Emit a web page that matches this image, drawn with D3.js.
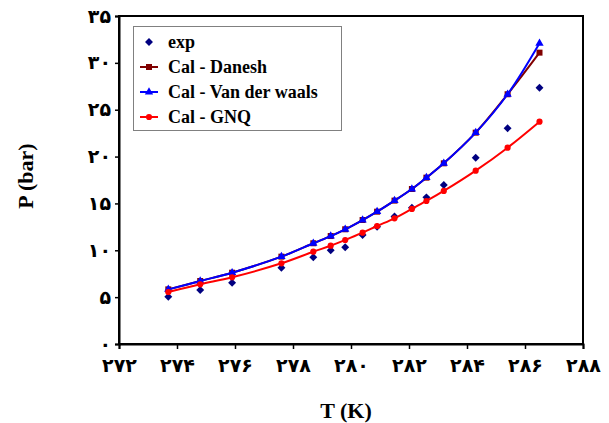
<!DOCTYPE html>
<html>
<head>
<meta charset="utf-8">
<script src="https://cdn.jsdelivr.net/npm/d3@7"></script>
<style>
  body { margin: 0; background: #fff; }
  svg { display: block; }
  text { font-family: "Times New Roman", "Liberation Serif", "DejaVu Sans", serif; font-weight: bold; }
</style>
</head>
<body>
<div id="chart"></div>
<script>
// temperatures (K)
var temps = [273.7, 274.8, 275.9, 277.6, 278.7, 279.3, 279.8, 280.4, 280.9, 281.5, 282.1, 282.6, 283.2, 284.3, 285.4, 286.5];
// pressures (bar)
var p_exp    = [5.05, 5.76, 6.54, 8.14, 9.25, 10.0, 10.32, 11.63, 12.5, 13.6, 14.55, 15.65, 16.97, 19.88, 23.02, 27.35];
var p_danesh = [5.83, 6.72, 7.61, 9.32, 10.75, 11.52, 12.24, 13.23, 14.12, 15.3, 16.54, 17.75, 19.28, 22.55, 26.65, 31.09];
var p_vdw    = [5.83, 6.72, 7.61, 9.32, 10.75, 11.52, 12.24, 13.23, 14.12, 15.3, 16.54, 17.75, 19.28, 22.55, 26.65, 32.09];
var p_gnq    = [5.55, 6.37, 7.12, 8.61, 9.85, 10.49, 11.1, 11.88, 12.59, 13.41, 14.41, 15.26, 16.33, 18.5, 20.95, 23.72];
var x_ticks = [272, 274, 276, 278, 280, 282, 284, 286, 288];
var y_ticks = [0, 5, 10, 15, 20, 25, 30, 35];
var series_names = ['exp', 'Cal - Danesh', 'Cal - Van der waals', 'Cal - GNQ'];

var width = 609, height = 423;
var plot = {left: 119, top: 16, right: 583, bottom: 344};

// persian digits for tick labels
var fa = function (n) {
    return String(n).replace(/\d/g, function (c) { return String.fromCharCode(0x06F0 + (+c)); });
};

var svg = d3.select('#chart').append('svg').attr('width', width).attr('height', height);

var x = d3.scaleLinear().domain([272, 288]).range([plot.left, plot.right]);
var y = d3.scaleLinear().domain([0, 35]).range([plot.bottom, plot.top]);

// frame
svg.append('rect')
    .attr('x', plot.left).attr('y', plot.top)
    .attr('width', plot.right - plot.left).attr('height', plot.bottom - plot.top)
    .attr('fill', 'none').attr('stroke', '#000').attr('stroke-width', 2);

var x_axis = svg.append('g')
    .attr('transform', 'translate(0,' + plot.bottom + ')')
    .call(d3.axisBottom(x).tickValues(x_ticks).tickSize(5).tickPadding(10).tickFormat(fa));
var y_axis = svg.append('g')
    .attr('transform', 'translate(' + plot.left + ',0)')
    .call(d3.axisLeft(y).tickValues(y_ticks).tickSize(4).tickPadding(4).tickFormat(fa));
[x_axis, y_axis].forEach(function (a) {
    a.select('.domain').attr('stroke-width', 2);
    a.selectAll('.tick line').attr('stroke-width', 1.5);
    a.selectAll('.tick text')
        .attr('font-size', 19)
        .attr('font-family', '"Times New Roman", "Liberation Serif", "DejaVu Sans", serif')
        .attr('font-weight', 'bold')
        .attr('fill', '#000');
});

// axis titles
svg.append('text')
    .attr('x', 346).attr('y', 418)
    .attr('text-anchor', 'middle').attr('font-size', 22)
    .text('T (K)');
svg.append('text')
    .attr('transform', 'translate(33,176) rotate(-90)')
    .attr('text-anchor', 'middle').attr('font-size', 22)
    .text('P (bar)');

var line_gen = function (vals) {
    return d3.line()
        .x(function (d, i) { return x(temps[i]); })
        .y(function (d) { return y(d); })
        .curve(d3.curveCatmullRom.alpha(0.5))(vals);
};

var sym = {
    diamond: d3.symbol().type(d3.symbolDiamond2).size(40),
    square: d3.symbol().type(d3.symbolSquare).size(36),
    triangle: d3.symbol().type(d3.symbolTriangle).size(30),
    circle: d3.symbol().type(d3.symbolCircle).size(30)
};

var series = [
    {vals: p_exp, color: '#000080', marker: 'diamond', line: false},
    {vals: p_danesh, color: '#800000', marker: 'square', line: true},
    {vals: p_vdw, color: '#0000FF', marker: 'triangle', line: true},
    {vals: p_gnq, color: '#FF0000', marker: 'circle', line: true}
];

series.forEach(function (s) {
    var g = svg.append('g');
    if (s.line) {
        g.append('path')
            .attr('d', line_gen(s.vals))
            .attr('fill', 'none')
            .attr('stroke', s.color)
            .attr('stroke-width', 2);
    }
    g.selectAll('path.m')
        .data(s.vals)
        .enter()
        .append('path')
        .attr('class', 'm')
        .attr('transform', function (d, i) { return 'translate(' + x(temps[i]) + ',' + y(d) + ')'; })
        .attr('d', sym[s.marker])
        .attr('fill', s.color);
});

// legend
var legend = svg.append('g');
legend.append('rect')
    .attr('x', 133.5).attr('y', 26.5).attr('width', 208).attr('height', 104)
    .attr('fill', '#fff').attr('stroke', '#808080').attr('stroke-width', 1);
series.forEach(function (s, i) {
    var ly = 42 + i * 25;
    if (s.line) {
        legend.append('line')
            .attr('x1', 140).attr('x2', 158).attr('y1', ly).attr('y2', ly)
            .attr('stroke', s.color).attr('stroke-width', 2);
    }
    legend.append('path')
        .attr('transform', 'translate(149,' + ly + ')')
        .attr('d', sym[s.marker])
        .attr('fill', s.color);
    legend.append('text')
        .attr('x', 168).attr('y', ly + 6)
        .attr('font-size', 18)
        .text(series_names[i]);
});
</script>
</body>
</html>
